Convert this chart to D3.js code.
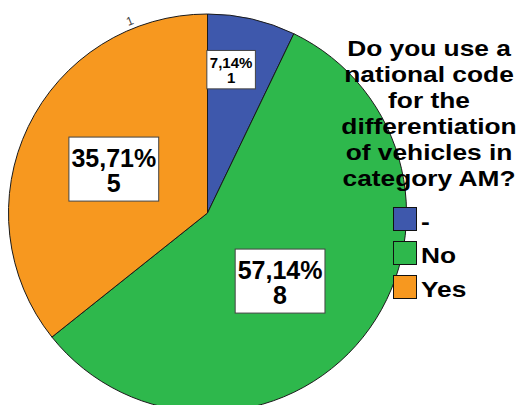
<!DOCTYPE html>
<html>
<head>
<meta charset="utf-8">
<script src="https://cdn.jsdelivr.net/npm/d3@7"></script>
<style>
  html, body { margin: 0; padding: 0; background: #fff; }
  svg { display: block; font-family: "Liberation Sans", Arial, sans-serif; }
</style>
</head>
<body>
<svg id="chart" width="523" height="405"></svg>
<script>
// Survey answers and their counts
const categories = ["-", "No", "Yes"];
const counts = [1, 8, 5];
const colors = ["#3E58AC", "#2EB84C", "#F7981F"];
const titleLines = ["Do you use a", "national code", "for the", "differentiation", "of vehicles in", "category AM?"];

// Label placement per slice: radius fraction and angular nudge (degrees)
const labelLayout = [
  { r: 0.73, nudge: -3.5, size: 15 },
  { r: 0.50, nudge: 4.6, size: 25 },
  { r: 0.52, nudge: -0.6, size: 25 }
];

const svg = d3.select("#chart");
const cx = 207.5, cy = 213, R = 199;
const total = d3.sum(counts);
const data = categories.map((c, i) => ({ cat: c, count: counts[i], color: colors[i], idx: i }));

const pie = d3.pie().value(d => d.count).sort(null);
const arcs = pie(data);
const arc = d3.arc().innerRadius(0).outerRadius(R);

const g = svg.append("g").attr("transform", `translate(${cx},${cy})`);

g.selectAll("path.slice")
  .data(arcs)
  .enter().append("path")
  .attr("class", "slice")
  .attr("d", arc)
  .attr("fill", d => d.data.color)
  .attr("stroke", "#1a1a1a")
  .attr("stroke-width", 1)
  .attr("stroke-linejoin", "round");

// Small count tick label outside the rim of the "Yes" slice
{
  const a = -22 * Math.PI / 180;
  const rr = R + 4;
  g.append("text")
    .attr("transform", `translate(${rr * Math.sin(a)},${-rr * Math.cos(a)}) rotate(-22)`)
    .attr("text-anchor", "middle")
    .attr("font-size", 12)
    .attr("fill", "#444")
    .text(counts[0]);
}

// Percentage / count boxes
const fmt = v => (v * 100 / total).toFixed(2).replace(".", ",") + "%";
arcs.forEach(d => {
  const L = labelLayout[d.data.idx];
  const mid = (d.startAngle + d.endAngle) / 2 + L.nudge * Math.PI / 180;
  const px = L.r * R * Math.sin(mid);
  const py = -L.r * R * Math.cos(mid);
  const fs = L.size;
  const lg = g.append("g").attr("transform", `translate(${px},${py})`);
  const h = fs * 2.56;
  const top = -h / 2;
  const rect = lg.append("rect").attr("fill", "#fff").attr("stroke", "#444").attr("stroke-width", 1);
  const t = lg.append("text")
    .attr("text-anchor", "middle")
    .attr("font-weight", "bold")
    .attr("font-size", fs)
    .attr("fill", "#000");
  t.append("tspan").attr("x", 0).attr("y", top + fs * 1.2).text(fmt(d.data.count));
  t.append("tspan").attr("x", 0).attr("y", top + fs * 2.2).text(d.data.count);
  const bb = t.node().getBBox();
  const w = bb.width + (fs > 20 ? 5 : 6);
  rect.attr("x", -w / 2).attr("y", top).attr("width", w).attr("height", h);
});

// Title (legend heading), stretched horizontally
const sx = 1.17;
const title = svg.append("g").attr("transform", `translate(429,0) scale(${sx},1)`);
titleLines.forEach((line, i) => {
  title.append("text")
    .attr("x", 0)
    .attr("y", 56.5 + i * 26)
    .attr("text-anchor", "middle")
    .attr("font-weight", "bold")
    .attr("font-size", 22.5)
    .attr("fill", "#000")
    .text(line);
});

// Legend
const legend = svg.append("g").attr("transform", "translate(393,207)");
data.forEach((d, i) => {
  const row = legend.append("g").attr("transform", `translate(0,${i * 34})`);
  row.append("rect")
    .attr("x", 0.5).attr("y", 0.5)
    .attr("width", 23).attr("height", 23)
    .attr("fill", d.color)
    .attr("stroke", "#111")
    .attr("stroke-width", 1);
  row.append("text")
    .attr("transform", `translate(28,22) scale(${sx},1)`)
    .attr("font-weight", "bold")
    .attr("font-size", 22.5)
    .attr("fill", "#000")
    .text(d.cat);
});
</script>
</body>
</html>
